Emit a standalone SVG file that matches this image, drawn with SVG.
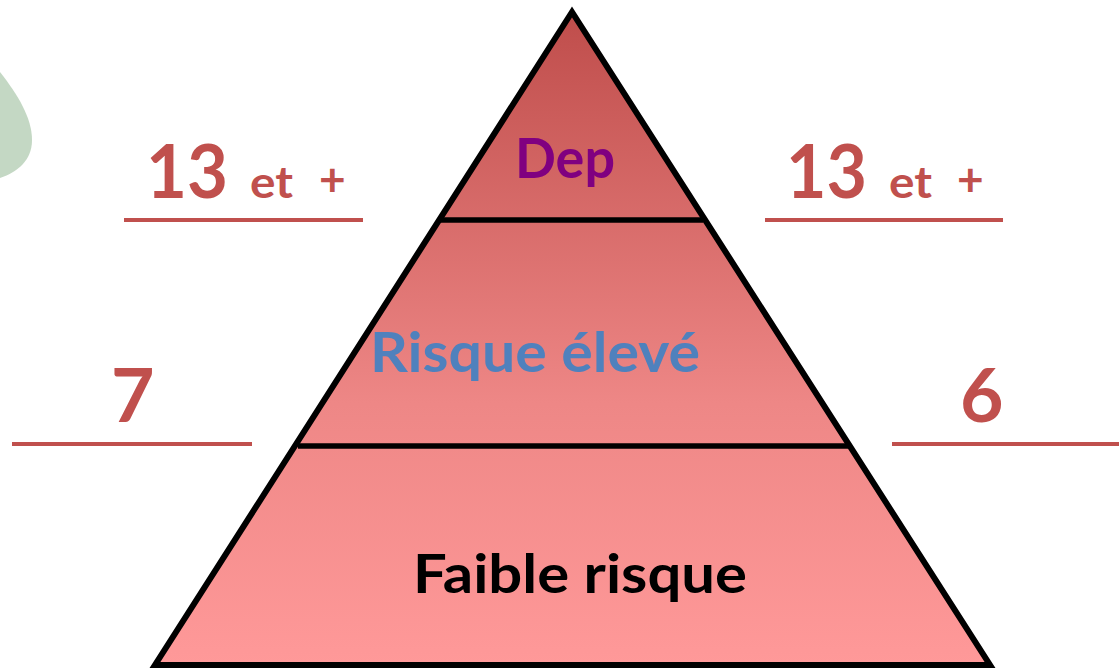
<svg xmlns="http://www.w3.org/2000/svg" width="1119" height="669" viewBox="0 0 1119 669">
  <defs>
    <linearGradient id="pyramidFill" gradientUnits="userSpaceOnUse" x1="0" y1="12" x2="0" y2="665">
      <stop offset="0" stop-color="#BF4D4B"/>
      <stop offset="0.6" stop-color="#EE8786"/>
      <stop offset="1" stop-color="#FF9999"/>
    </linearGradient>
  </defs>
  <style>
    .red { fill: #C0504D; font-family: Lato, "Liberation Sans", sans-serif; font-weight: bold; }
    .rule { stroke: #C0504D; stroke-width: 4; }
    .label { font-family: Lato, "Liberation Sans", sans-serif; font-weight: bold; text-anchor: middle; }
    .edge { stroke: #000; stroke-width: 5.5; fill: none; }
  </style>

  <!-- background leaf shape -->
  <path id="leaf" d="M0,72 C18,95 32,118 32,140 C32,160 18,172 0,178 Z" fill="#C4D8C4"/>

  <!-- pyramid -->
  <g id="pyramid">
    <polygon points="572,12 155,665 990,665" fill="url(#pyramidFill)" stroke="#000" stroke-width="6" stroke-linejoin="miter"/>
  </g>

  <g id="connectors">
    <line class="edge" x1="441" y1="220" x2="703" y2="220"/>
    <line class="edge" x1="298" y1="446" x2="848" y2="446"/>
    <line class="rule" x1="124" y1="220" x2="363" y2="220"/>
    <line class="rule" x1="765" y1="220" x2="1003" y2="220"/>
    <line class="rule" x1="12" y1="444" x2="252" y2="444"/>
    <line class="rule" x1="892" y1="444" x2="1119" y2="444"/>
  </g>

  <g id="tier-dep">
    <text class="label" x="565" y="178" font-size="55" fill="#800080" textLength="100" lengthAdjust="spacingAndGlyphs">Dep</text>
  </g>
  <g id="tier-high">
    <text class="label" x="535" y="372" font-size="56" fill="#4F81BD" textLength="330" lengthAdjust="spacingAndGlyphs">Risque élevé</text>
  </g>
  <g id="tier-low">
    <text class="label" x="580" y="593" font-size="54" fill="#000" textLength="334" lengthAdjust="spacingAndGlyphs">Faible risque</text>
  </g>

  <g id="left-top">
    <text class="red" x="146" y="198" font-size="75" textLength="82" lengthAdjust="spacingAndGlyphs">13</text>
    <text class="red" x="250" y="198" font-size="44" textLength="43" lengthAdjust="spacingAndGlyphs">et</text>
    <text class="red" x="319" y="196" font-size="46">+</text>
  </g>
  <g id="right-top">
    <text class="red" x="786" y="198" font-size="75" textLength="81" lengthAdjust="spacingAndGlyphs">13</text>
    <text class="red" x="889" y="198" font-size="44" textLength="43" lengthAdjust="spacingAndGlyphs">et</text>
    <text class="red" x="957" y="196" font-size="46">+</text>
  </g>
  <g id="left-mid">
    <text class="red" x="111" y="422" font-size="75">7</text>
  </g>
  <g id="right-mid">
    <text class="red" x="960" y="422" font-size="75">6</text>
  </g>
</svg>
